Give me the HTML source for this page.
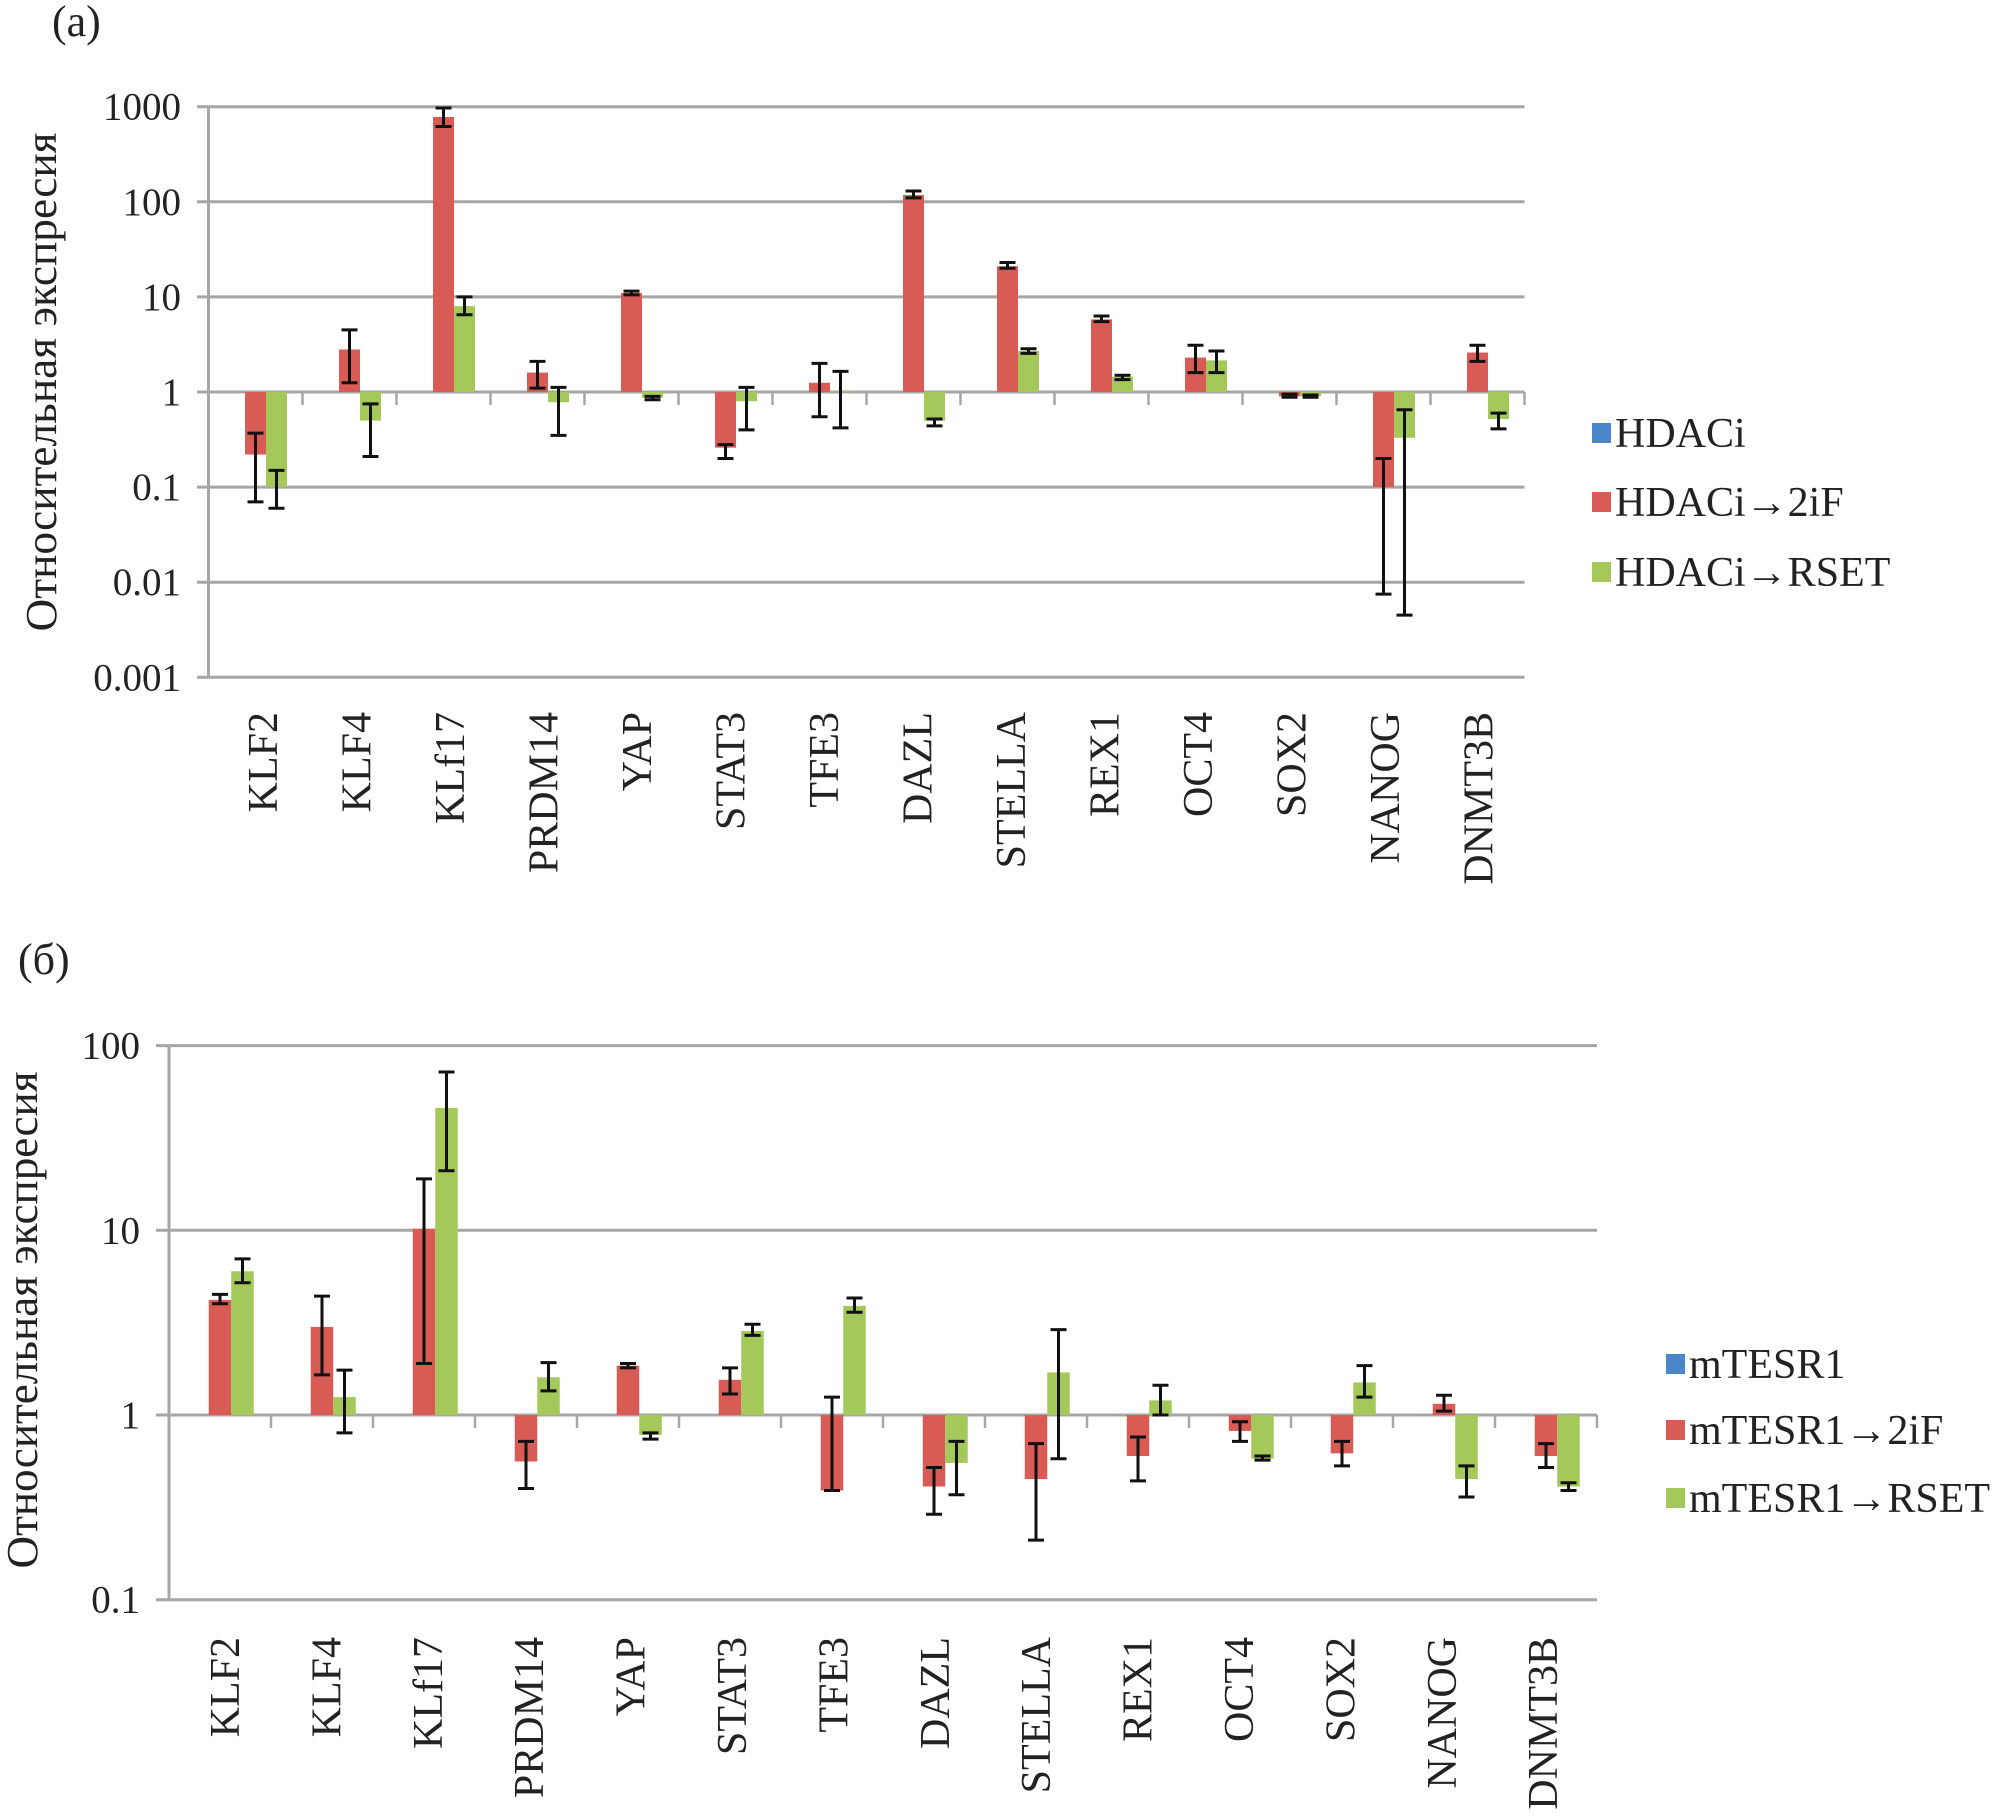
<!DOCTYPE html>
<html><head><meta charset="utf-8"><style>
html,body{margin:0;padding:0;background:#fff;}
svg{display:block;}
svg text{font-family:"Liberation Serif","Times New Roman",serif;}
</style></head><body>
<svg id="fig" width="1998" height="1817" viewBox="0 0 1998 1817" xmlns="http://www.w3.org/2000/svg">
<text x="52" y="36" font-size="44" fill="#222">(a)</text>
<text x="18" y="974" font-size="44" fill="#222">(б)</text>
<g id="chartA"></g>
<g id="chartB"></g>
</svg>
<script>
const categories = ["KLF2","KLF4","KLf17","PRDM14","YAP","STAT3","TFE3","DAZL","STELLA","REX1","OCT4","SOX2","NANOG","DNMT3B"];
// Chart A values
const aRed = [0.22,2.8,780,1.6,11,0.26,1.25,118,21,5.8,2.3,0.9,0.1,2.6];
const aRedLo = [0.07,1.25,620,1.1,10.5,0.2,0.55,110,20,5.5,1.6,0.88,0.0075,2.1];
const aRedHi = [0.37,4.5,970,2.1,11.5,0.28,2.0,130,23,6.3,3.1,0.95,0.2,3.1];
const aGreen = [0.1,0.5,8,0.78,0.87,0.8,1.02,0.5,2.7,1.45,2.15,0.9,0.33,0.52];
const aGreenLo = [0.06,0.21,6.5,0.35,0.83,0.4,0.42,0.44,2.55,1.35,1.6,0.88,0.0045,0.41];
const aGreenHi = [0.15,0.75,10,1.12,0.9,1.12,1.65,0.52,2.85,1.5,2.7,0.93,0.65,0.6];
const aTicks = ["0.001","0.01","0.1","1","10","100","1000"];
// Chart B values
const bRed = [4.2,3.0,10.2,0.56,1.85,1.55,0.39,0.41,0.45,0.6,0.82,0.62,1.15,0.6];
const bRedLo = [4.0,1.65,1.9,0.4,1.8,1.3,0.39,0.29,0.21,0.44,0.72,0.53,1.05,0.52];
const bRedHi = [4.5,4.4,19,0.72,1.9,1.8,1.25,0.52,0.7,0.76,0.92,0.72,1.28,0.7];
const bGreen = [6.0,1.25,46,1.6,0.78,2.85,3.9,0.55,1.7,1.2,0.58,1.5,0.45,0.41];
const bGreenLo = [5.2,0.8,21,1.35,0.74,2.7,3.6,0.37,0.58,1.0,0.57,1.25,0.36,0.39];
const bGreenHi = [7.0,1.75,72,1.92,0.8,3.1,4.3,0.72,2.9,1.45,0.6,1.85,0.53,0.43];
const bTicks = ["0.1","1","10","100"];
const aLegend = ["HDACi","HDACi\u21922iF","HDACi\u2192RSET"];
const bLegend = ["mTESR1","mTESR1\u21922iF","mTESR1\u2192RSET"];

const NS="http://www.w3.org/2000/svg";
const COLORS=["#4a86c8","#d95b55","#a4c85a"];
function mk(parent,tag,attrs){const e=document.createElementNS(NS,tag);for(const k in attrs)e.setAttribute(k,attrs[k]);parent.appendChild(e);return e;}

function drawChart(g,cfg){
  const yOf=v=>cfg.y1-Math.log10(v)*cfg.dec;
  const xOf=i=>cfg.x0+i*cfg.cw;
  cfg.ticks.forEach((t,k)=>{
    const y=yOf(parseFloat(t));
    const ln=mk(g,'line',{x1:cfg.gx0,x2:cfg.x0+categories.length*cfg.cw,y1:y,y2:y,stroke:'#a6a6a6','stroke-width':3});
    
    
    const tx=mk(g,'text',{x:cfg.tx,y:y+13,'font-size':39,'text-anchor':'end',fill:'#222'});
    tx.textContent=t;
    
    
  });
  const ax=mk(g,'line',{x1:cfg.x0,x2:cfg.x0,y1:yOf(parseFloat(cfg.ticks[cfg.ticks.length-1])),y2:yOf(parseFloat(cfg.ticks[0])),stroke:'#a6a6a6','stroke-width':3});
  
  
  const y1=yOf(1);
  for(let i=1;i<=categories.length;i++){
    const tk=mk(g,'line',{x1:xOf(i),x2:xOf(i),y1:y1,y2:y1+13,stroke:'#a6a6a6','stroke-width':2.5});
    
    
  }
  const bw=cfg.bw, off=(cfg.cw-3*bw)/2;
  const series=[[cfg.red,cfg.redLo,cfg.redHi,1],[cfg.green,cfg.greenLo,cfg.greenHi,2]];
  categories.forEach((c,i)=>{
    series.forEach(s=>{
      const v=s[0][i], bx=xOf(i)+off+s[3]*bw, yv=yOf(v);
      const r=mk(g,'rect',{x:bx,y:Math.min(yv,y1),width:bw,height:Math.max(1,Math.abs(yv-y1)),fill:COLORS[s[3]]});
      
      
      const cx=bx+bw/2, ylo=yOf(s[1][i]), yhi=yOf(s[2][i]);
      const eb=mk(g,'path',{d:`M${cx},${ylo}V${yhi}M${cx-8},${ylo}h16M${cx-8},${yhi}h16`,stroke:'#111','stroke-width':3,fill:'none'});
      
      
    });
    const lx=cfg.lx0+i*cfg.ls;
    const lt=mk(g,'text',{x:0,y:0,'font-size':42,'text-anchor':'end',fill:'#222',transform:`translate(${lx},${cfg.ly}) rotate(-90)`});
    lt.textContent=c;
    
    
  });
  const yt=mk(g,'text',{x:0,y:0,'font-size':44,'text-anchor':'middle',fill:'#222',textLength:cfg.tl,lengthAdjust:'spacingAndGlyphs',transform:`translate(${cfg.ttx},${cfg.tty}) rotate(-90)`});
  yt.textContent='Относительная экспресия';
  
  
  cfg.legend.forEach((name,k)=>{
    const yy=cfg.legY[k];
    const sq=mk(g,'rect',{x:cfg.legX,y:yy-10,width:19,height:20,fill:COLORS[k]});
    
    
    const t=mk(g,'text',{x:cfg.legX+23,y:yy+14,'font-size':42,fill:'#222'});
    t.textContent=name;
    
    
  });
}
drawChart(document.getElementById('chartA'),{
  x0:208.5,cw:94,bw:21,y1:392,dec:95.1,gx0:197,tx:181,ticks:aTicks,
  red:aRed,redLo:aRedLo,redHi:aRedHi,green:aGreen,greenLo:aGreenLo,greenHi:aGreenHi,
  lx0:277,ls:93.5,ly:712,ttx:56,tty:382,tl:499,legend:aLegend,legX:1592,legY:[433,502,572]
});
drawChart(document.getElementById('chartB'),{
  x0:169,cw:102,bw:22.5,y1:1415,dec:184.7,gx0:156,tx:140,ticks:bTicks,
  red:bRed,redLo:bRedLo,redHi:bRedHi,green:bGreen,greenLo:bGreenLo,greenHi:bGreenHi,
  lx0:239,ls:101.4,ly:1637,ttx:37,tty:1320,tl:497,legend:bLegend,legX:1666,legY:[1364,1430,1498]
});
</script>
</body></html>
